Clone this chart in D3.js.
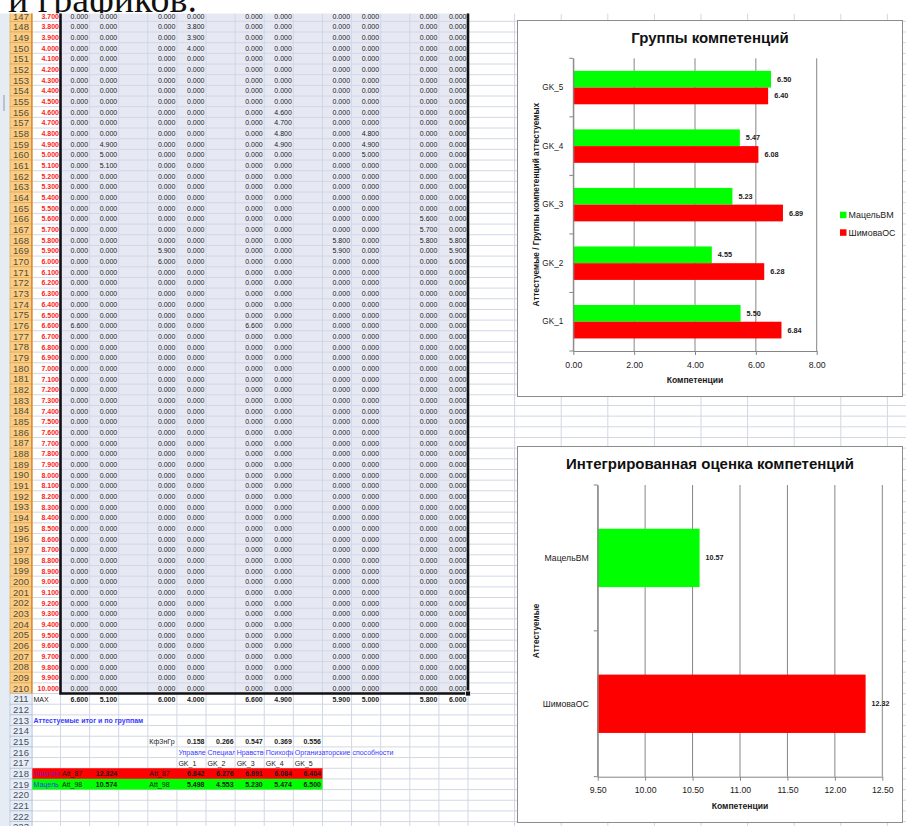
<!DOCTYPE html>
<html>
<head>
<meta charset="utf-8">
<script src="https://cdn.jsdelivr.net/npm/d3@7"></script>
<style>
  body { margin: 0; background: #fff; }
  svg { display: block; }
</style>
</head>
<body>
<svg id="page" width="906" height="826"></svg>
<script>
// ---------- data ----------
// score steps in column A, rows 147..210
const scoreSteps = [3.7, 3.8, 3.9, 4.0, 4.1, 4.2, 4.3, 4.4, 4.5, 4.6, 4.7, 4.8, 4.9, 5.0, 5.1, 5.2,
  5.3, 5.4, 5.5, 5.6, 5.7, 5.8, 5.9, 6.0, 6.1, 6.2, 6.3, 6.4, 6.5, 6.6, 6.7, 6.8, 6.9, 7.0, 7.1, 7.2,
  7.3, 7.4, 7.5, 7.6, 7.7, 7.8, 7.9, 8.0, 8.1, 8.2, 8.3, 8.4, 8.5, 8.6, 8.7, 8.8, 8.9, 9.0, 9.1, 9.2,
  9.3, 9.4, 9.5, 9.6, 9.7, 9.8, 9.9, 10.0];
// steps that carry a non-zero mark in each scoring column
const hitsB = [6.6];
const hitsC = [4.9, 5.0, 5.1];
const hitsE = [5.9, 6.0];
const hitsF = [3.8, 3.9, 4.0];
const hitsH = [6.6];
const hitsI = [4.6, 4.7, 4.8, 4.9];
const hitsK = [5.8, 5.9];
const hitsL = [4.8, 4.9, 5.0];
const hitsN = [5.6, 5.7, 5.8];
const hitsO = [5.8, 5.9, 6.0];

const groups = ["GK_1", "GK_2", "GK_3", "GK_4", "GK_5"];
const groupNames = ["Управленческие", "Специальные", "Нравственные", "Психофизиологические", "Организаторские способности"];
const groupWeights = [0.158, 0.266, 0.547, 0.369, 0.556];

const persons = ["ШимоваОС", "МацельВМ"];
const personShort = ["Шимова", "Мацель"];
const personIds = ["Att_87", "Att_98"];
const totals = [12.324, 10.574];
const scoresShimova = [6.842, 6.276, 6.891, 6.084, 6.404];
const scoresMacel = [5.498, 4.553, 5.230, 5.474, 6.500];
const personColors = ["#ff0000", "#00ff00"];

const ticks1 = [0, 2, 4, 6, 8];
const ticks2 = [9.5, 10.0, 10.5, 11.0, 11.5, 12.0, 12.5];

// ---------- setup ----------
const SANS = "'Liberation Sans', Arial, sans-serif";
const svg = d3.select("#page");
const defs = svg.append("defs");
const f3 = d3.format(".3f");
const f2 = d3.format(".2f");

const firstRow = 147, lastRow = 223, lastDataRow = 210;
const rowH = 10.67, row0Top = 10.67, sheetTop = 13.5;
const rowY = r => row0Top + (r - firstRow) * rowH;

// heading fragment above the sheet, cut by the sheet's top edge
defs.append("clipPath").attr("id", "headClip")
  .append("rect").attr("x", 0).attr("y", 0).attr("width", 906).attr("height", sheetTop);
svg.append("g").attr("clip-path", "url(#headClip)")
  .append("text")
  .attr("x", 8).attr("y", 11.5)
  .attr("font-family", "'Liberation Serif', 'Times New Roman', serif")
  .attr("font-size", 37).attr("fill", "#111")
  .attr("textLength", 189).attr("lengthAdjust", "spacingAndGlyphs")
  .text("и графиков.");

// ---------- worksheet ----------
const colEdges = [32];
for (let i = 0; i <= 14; i++) colEdges.push(60.5 + i * 29.107);
for (let k = 1; k <= 10; k++) colEdges.push(468 + k * 46.6);
const colL = c => colEdges[c];
const colR = c => colEdges[c + 1];

defs.append("clipPath").attr("id", "sheetClip")
  .append("rect").attr("x", 0).attr("y", sheetTop).attr("width", 906).attr("height", 826 - sheetTop);

const sheet = svg.append("g").attr("clip-path", "url(#sheetClip)");
sheet.append("rect").attr("x", 0).attr("y", 0).attr("width", 906).attr("height", 826).attr("fill", "#fff");

// selected block B147:O210
sheet.append("rect")
  .attr("x", colL(1)).attr("y", rowY(firstRow))
  .attr("width", colR(14) - colL(1)).attr("height", rowY(lastDataRow + 1) - rowY(firstRow))
  .attr("fill", "#e6e9f3");

const rows = d3.range(firstRow, lastRow + 2);
sheet.selectAll("line.hgrid").data(rows).join("line").attr("class", "hgrid")
  .attr("x1", 32).attr("x2", 906)
  .attr("y1", d => rowY(d)).attr("y2", d => rowY(d))
  .attr("stroke", "#d2d7e4").attr("stroke-width", 1);
sheet.selectAll("line.vgrid").data(colEdges).join("line").attr("class", "vgrid")
  .attr("x1", d => d).attr("x2", d => d)
  .attr("y1", sheetTop).attr("y2", 826)
  .attr("stroke", "#d2d7e4").attr("stroke-width", 1);

// coloured result rows 218, 219
[218, 219].forEach((r, i) => {
  sheet.append("rect")
    .attr("x", colL(0)).attr("y", rowY(r))
    .attr("width", colR(9) - colL(0)).attr("height", rowH)
    .attr("fill", personColors[i]);
});

// cell contents
const cells = [];
const scoreCols = [[1, hitsB], [2, hitsC], [4, hitsE], [5, hitsF], [7, hitsH], [8, hitsI], [10, hitsK], [11, hitsL], [13, hitsN], [14, hitsO]];
const colValue = (hits, step) => hits.some(h => Math.abs(h - step) < 1e-9) ? step : 0;

scoreSteps.forEach((step, i) => {
  const r = firstRow + i;
  cells.push({ r, c: 0, text: f3(step), align: "end", color: "#ff1c1c", weight: "bold" });
  scoreCols.forEach(([c, hits]) => {
    cells.push({ r, c, text: f3(colValue(hits, step)), align: "end", color: "#1a1a1a" });
  });
});
cells.push({ r: 211, c: 0, text: "MAX", align: "start", color: "#1a1a1a" });
scoreCols.forEach(([c, hits]) => {
  cells.push({ r: 211, c, text: f3(d3.max(scoreSteps, s => colValue(hits, s))), align: "end", color: "#1a1a1a", weight: "bold" });
});
cells.push({ r: 213, c: 0, text: "Аттестуемые итог и по группам", align: "start", color: "#3a3aff", weight: "bold" });
cells.push({ r: 215, c: 4, text: "КфЗнГр", align: "start", color: "#1a1a1a", clip: true });
groupWeights.forEach((w, i) => cells.push({ r: 215, c: 5 + i, text: f3(w), align: "end", color: "#1a1a1a", weight: "bold" }));
groupNames.forEach((n, i) => cells.push({ r: 216, c: 5 + i, text: n, align: "start", color: "#3a3aff", clip: i < 4 }));
groups.forEach((g, i) => cells.push({ r: 217, c: 5 + i, text: g, align: "start", color: "#1a1a1a" }));
[scoresShimova, scoresMacel].forEach((sc, p) => {
  const r = 218 + p;
  cells.push({ r, c: 0, text: personShort[p], align: "start", color: p === 0 ? "#8a1aa8" : "#2a3cff", clip: true });
  cells.push({ r, c: 1, text: personIds[p], align: "start", color: "#1a1a1a" });
  cells.push({ r, c: 2, text: f3(totals[p]), align: "end", color: "#1a1a1a", weight: "bold" });
  cells.push({ r, c: 4, text: personIds[p], align: "start", color: "#1a1a1a" });
  sc.forEach((v, i) => cells.push({ r, c: 5 + i, text: f3(v), align: "end", color: "#1a1a1a", weight: "bold" }));
});

cells.forEach((d, i) => {
  if (d.clip) {
    defs.append("clipPath").attr("id", "cell" + i)
      .append("rect").attr("x", colL(d.c)).attr("y", rowY(d.r))
      .attr("width", colR(d.c) - colL(d.c)).attr("height", rowH);
  }
});
sheet.selectAll("text.cell").data(cells).join("text").attr("class", "cell")
  .attr("x", d => d.align === "end" ? colR(d.c) - 1.5 : colL(d.c) + 1.5)
  .attr("y", d => rowY(d.r) + rowH - 2.6)
  .attr("text-anchor", d => d.align)
  .attr("font-family", SANS).attr("font-size", 7)
  .attr("font-weight", d => d.weight || "normal")
  .attr("fill", d => d.color)
  .attr("clip-path", (d, i) => d.clip ? `url(#cell${i})` : null)
  .text(d => d.text);

// selection outline and fill handle
sheet.append("path")
  .attr("d", `M${colL(1)},0V${rowY(lastDataRow + 1)}H${colR(14)}V0`)
  .attr("fill", "none").attr("stroke", "#111").attr("stroke-width", 2.6);
sheet.append("rect")
  .attr("x", colR(14) - 2.5).attr("y", rowY(lastDataRow + 1) - 2.5)
  .attr("width", 5).attr("height", 5)
  .attr("fill", "#111").attr("stroke", "#fff").attr("stroke-width", 0.8);

// row headers
const hdr = sheet.append("g");
hdr.append("rect").attr("x", 0).attr("y", 0).attr("width", 10).attr("height", 826).attr("fill", "#e6ecf4");
hdr.append("rect").attr("x", 3).attr("y", 95).attr("width", 2).attr("height", 16).attr("fill", "#b9c3cf");
const hdrRows = d3.range(firstRow, lastRow + 1);
hdr.selectAll("rect.rh").data(hdrRows).join("rect").attr("class", "rh")
  .attr("x", 10).attr("y", d => rowY(d)).attr("width", 22).attr("height", rowH)
  .attr("fill", d => d <= lastDataRow ? "#f8cd86" : "#e8eef7")
  .attr("stroke", d => d <= lastDataRow ? "#e7a64c" : "#aebfd6").attr("stroke-width", 0.7);
hdr.append("line").attr("x1", 31.8).attr("x2", 31.8)
  .attr("y1", 0).attr("y2", rowY(lastDataRow + 1))
  .attr("stroke", "#e28a2a").attr("stroke-width", 1.4);
hdr.selectAll("text.rh").data(hdrRows).join("text").attr("class", "rh")
  .attr("x", 21).attr("y", d => rowY(d) + rowH - 1.8)
  .attr("text-anchor", "middle")
  .attr("font-family", SANS).attr("font-size", 9.5)
  .attr("fill", d => d <= lastDataRow ? "#5c4a30" : "#4a4f5a")
  .text(d => d);

// ---------- chart frames ----------
function frame(x, y, w, h) {
  const g = svg.append("g");
  g.append("rect").attr("x", x).attr("y", y).attr("width", w).attr("height", h)
    .attr("fill", "#fff").attr("stroke", "#8c8c8c").attr("stroke-width", 1);
  return g;
}
function styleAxis(sel) {
  sel.selectAll("path.domain").attr("stroke", "#868686");
  sel.selectAll(".tick line").attr("stroke", "#868686");
  sel.selectAll(".tick text").attr("font-family", SANS).attr("font-size", 8.7).attr("fill", "#1a1a1a");
}

// ---------- chart 1: groups of competences ----------
{
  const g = frame(517.5, 20.5, 385, 376);
  const x = d3.scaleLinear().domain([0, 8]).range([573.3, 816.7]);
  const y = d3.scaleBand().domain(groups.slice().reverse()).range([58.3, 351]);
  const top = y.range()[0], bottom = y.range()[1];

  g.append("text").attr("x", 710).attr("y", 42.5).attr("text-anchor", "middle")
    .attr("font-family", SANS).attr("font-size", 15).attr("font-weight", "bold").attr("fill", "#111")
    .text("Группы компетенций");

  g.selectAll("line.grid").data(ticks1).join("line").attr("class", "grid")
    .attr("x1", d => x(d)).attr("x2", d => x(d)).attr("y1", top).attr("y2", bottom)
    .attr("stroke", "#868686").attr("stroke-width", 1);

  const bh = y.bandwidth() / 3.5;
  const series = [
    { name: persons[1], values: scoresMacel, color: personColors[1], off: 0.75 * bh },
    { name: persons[0], values: scoresShimova, color: personColors[0], off: 1.75 * bh }
  ];
  series.forEach(s => {
    const sg = g.append("g");
    sg.selectAll("rect").data(groups).join("rect")
      .attr("x", x(0)).attr("y", gk => y(gk) + s.off)
      .attr("width", (gk, i) => x(s.values[i]) - x(0)).attr("height", bh)
      .attr("fill", s.color);
    sg.selectAll("text").data(groups).join("text")
      .attr("x", (gk, i) => x(s.values[i]) + 6).attr("y", gk => y(gk) + s.off + bh / 2 + 2.5)
      .attr("font-family", SANS).attr("font-size", 7.3).attr("font-weight", "bold").attr("fill", "#1a1a1a")
      .text((gk, i) => f2(s.values[i]));
  });

  const xa = g.append("g").attr("transform", `translate(0,${bottom})`)
    .call(d3.axisBottom(x).tickValues(ticks1).tickFormat(f2).tickSize(4).tickSizeOuter(0).tickPadding(7));
  styleAxis(xa);
  const ya = g.append("g").attr("transform", `translate(${x(0)},0)`)
    .call(d3.axisLeft(y).tickSize(0).tickSizeOuter(0).tickPadding(10));
  styleAxis(ya);
  ya.selectAll(".tick text").attr("font-size", 8.2);
  const bounds = groups.map(gk => y(gk)).concat([bottom]);
  g.selectAll("line.ctick").data(bounds).join("line").attr("class", "ctick")
    .attr("x1", x(0) - 4).attr("x2", x(0)).attr("y1", d => d).attr("y2", d => d)
    .attr("stroke", "#868686");

  g.append("text").attr("x", (x(0) + x(8)) / 2).attr("y", 383).attr("text-anchor", "middle")
    .attr("font-family", SANS).attr("font-size", 8.6).attr("font-weight", "bold").attr("fill", "#1a1a1a")
    .text("Компетенции");
  g.append("text").attr("transform", `translate(538.5,${(top + bottom) / 2}) rotate(-90)`)
    .attr("text-anchor", "middle")
    .attr("font-family", SANS).attr("font-size", 8.3).attr("font-weight", "bold").attr("fill", "#1a1a1a")
    .text("Аттестуемые / Группы компетенций аттестуемых");

  const leg = g.append("g");
  [[persons[1], personColors[1]], [persons[0], personColors[0]]].forEach(([name, color], i) => {
    leg.append("rect").attr("x", 840).attr("y", 211.7 + i * 17.6).attr("width", 6.5).attr("height", 6.5).attr("fill", color);
    leg.append("text").attr("x", 848.5).attr("y", 218.3 + i * 17.6)
      .attr("font-family", SANS).attr("font-size", 8.9).attr("fill", "#1a1a1a").text(name);
  });
}

// ---------- chart 2: integrated score ----------
{
  const g = frame(517.5, 446.5, 385, 376);
  const x = d3.scaleLinear().domain([9.5, 12.5]).range([597.7, 882.3]);
  const y = d3.scaleBand().domain([persons[1], persons[0]]).range([485, 776.7]);
  const top = y.range()[0], bottom = y.range()[1];

  g.append("text").attr("x", 710).attr("y", 468.5).attr("text-anchor", "middle")
    .attr("font-family", SANS).attr("font-size", 15).attr("font-weight", "bold").attr("fill", "#111")
    .text("Интегрированная оценка компетенций");

  g.selectAll("line.grid").data(ticks2).join("line").attr("class", "grid")
    .attr("x1", d => x(d)).attr("x2", d => x(d)).attr("y1", top).attr("y2", bottom)
    .attr("stroke", "#868686").attr("stroke-width", 1);

  const bh = y.bandwidth() / 2.5;
  const bars = persons.map((p, i) => ({ name: p, value: totals[i], color: personColors[i] }));
  g.selectAll("rect.bar").data(bars).join("rect").attr("class", "bar")
    .attr("x", x(9.5)).attr("y", d => y(d.name) + 0.75 * bh)
    .attr("width", d => x(d.value) - x(9.5)).attr("height", bh)
    .attr("fill", d => d.color);
  g.selectAll("text.val").data(bars).join("text").attr("class", "val")
    .attr("x", d => x(d.value) + 6).attr("y", d => y(d.name) + y.bandwidth() / 2 + 2.5)
    .attr("font-family", SANS).attr("font-size", 7.2).attr("font-weight", "bold").attr("fill", "#1a1a1a")
    .text(d => f2(d.value));

  const xa = g.append("g").attr("transform", `translate(0,${bottom})`)
    .call(d3.axisBottom(x).tickValues(ticks2).tickFormat(f2).tickSize(4).tickSizeOuter(0).tickPadding(6));
  styleAxis(xa);
  const ya = g.append("g").attr("transform", `translate(${x(9.5)},0)`)
    .call(d3.axisLeft(y).tickSize(0).tickSizeOuter(0).tickPadding(9));
  styleAxis(ya);
  const bounds = y.domain().map(p => y(p)).concat([bottom]);
  g.selectAll("line.ctick").data(bounds).join("line").attr("class", "ctick")
    .attr("x1", x(9.5) - 4).attr("x2", x(9.5)).attr("y1", d => d).attr("y2", d => d)
    .attr("stroke", "#868686");

  g.append("text").attr("x", (x(9.5) + x(12.5)) / 2).attr("y", 809).attr("text-anchor", "middle")
    .attr("font-family", SANS).attr("font-size", 8.6).attr("font-weight", "bold").attr("fill", "#1a1a1a")
    .text("Компетенции");
  g.append("text").attr("transform", `translate(538.5,${(top + bottom) / 2}) rotate(-90)`)
    .attr("text-anchor", "middle")
    .attr("font-family", SANS).attr("font-size", 8.4).attr("font-weight", "bold").attr("fill", "#1a1a1a")
    .text("Аттестуемые");
}
</script>
</body>
</html>
